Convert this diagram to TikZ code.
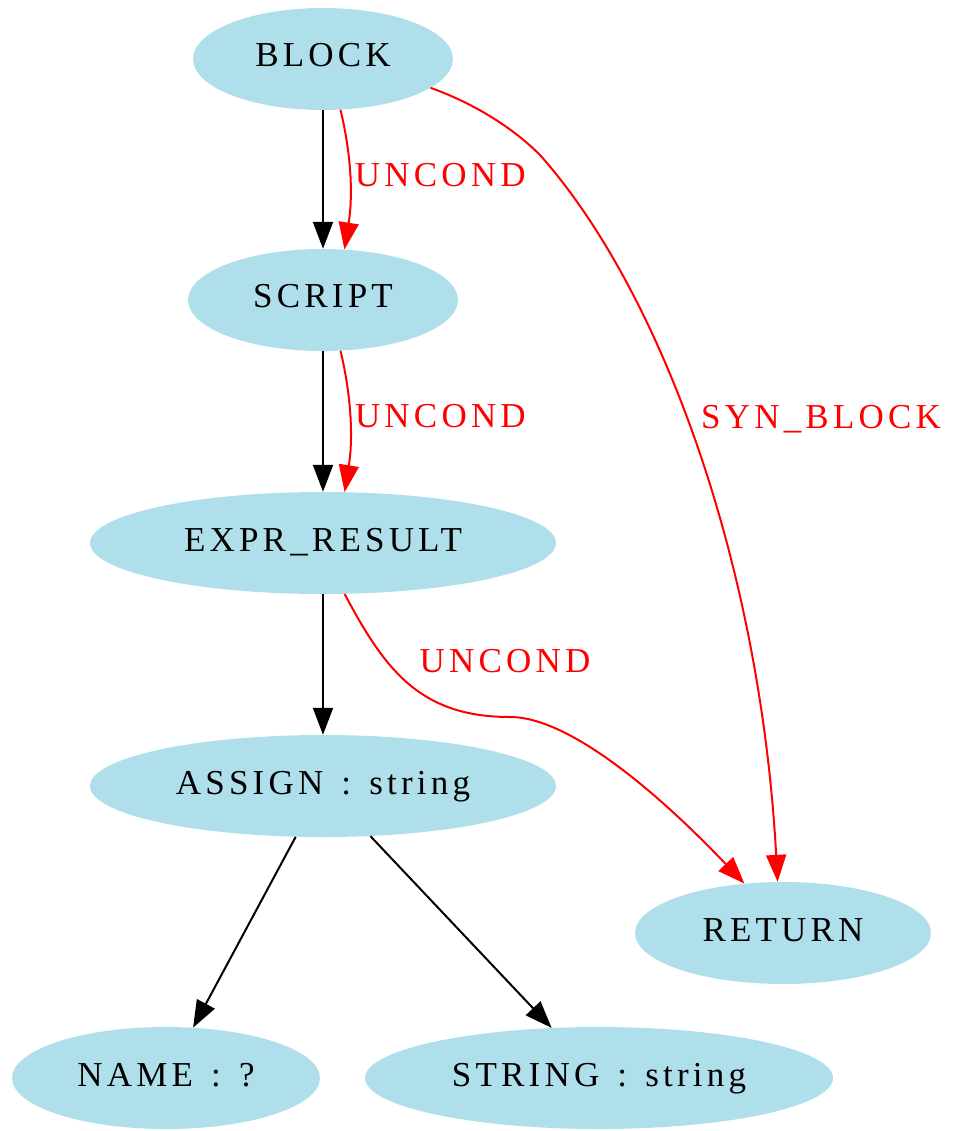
\documentclass[tikz,border=0pt]{standalone}
\usepackage{fontspec}
\setmainfont{Liberation Serif}[LetterSpace=12,WordSpace=1.4]
\usetikzlibrary{shapes.geometric,arrows.meta}
\definecolor{nodeblue}{RGB}{176,223,236}

\begin{document}
\begin{tikzpicture}[x=1pt,y=-1pt,
	every node/.style={font=\fontsize{35}{40}\selectfont},
	ast/.style={ellipse,fill=nodeblue,inner sep=0pt,minimum height=102pt,text height=24pt,text depth=8pt},
	tree/.style={-{Triangle[length=27pt,width=20pt]},line width=2pt},
	flow/.style={tree,red},
	lbl/.style={text=red,inner sep=0pt,anchor=west}]

\useasboundingbox (0,0) rectangle (955,1131);

\node[ast,minimum width=260pt](block) at (323,59) {BLOCK};
\node[ast,minimum width=270pt](script) at (323,300) {SCRIPT};
\node[ast,minimum width=466pt](expr) at (323,543) {EXPR\_RESULT};
\node[ast,minimum width=466pt](assign) at (323,786) {ASSIGN : string};
\node[ast,minimum width=296pt](ret) at (783,933) {RETURN};
\node[ast,minimum width=308pt](name) at (166,1078) {NAME : ?};
\node[ast,minimum width=468pt](str) at (599,1078) {STRING : string};

\foreach \a/\b in {block/script,script/expr,expr/assign,assign/name,assign/str}
	\draw[tree](\a)--(\b);

\draw[flow](block.-71) .. controls +(12,50) and +(8,-50) .. node[lbl,xshift=4pt,yshift=5pt] {UNCOND} (script.67);
\draw[flow](script.-71) .. controls +(12,50) and +(8,-50) .. node[lbl,xshift=4pt,yshift=5pt] {UNCOND} (expr.67);
\draw[flow](expr.-67) .. controls (385,670) and (420,717) .. node[lbl,xshift=10pt,yshift=23pt] {UNCOND} (510,717)
	.. controls (570,717) and (660,795) .. (ret.128);
\draw[flow](block.-15) .. controls (470,102) and (510,125) .. (540,155)
	.. controls (660,290) and (760,560) .. node[lbl,pos=0.45,xshift=16pt,yshift=-7pt] {SYN\_BLOCK} (ret.96);

\end{tikzpicture}
\end{document}
